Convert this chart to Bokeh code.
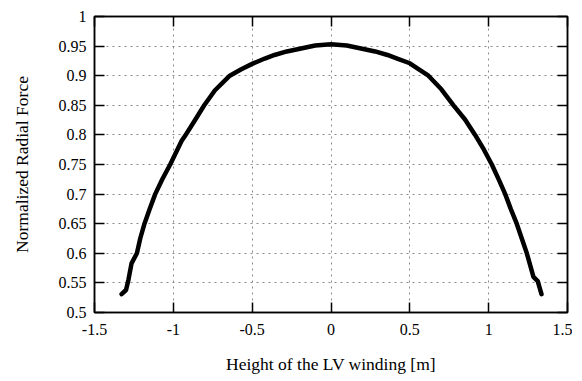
from bokeh.plotting import figure
from bokeh.models import LinearAxis, FixedTicker, Range1d, CustomJSTickFormatter
from bokeh.embed import file_html
from bokeh.resources import INLINE

# Data
height_m = [-1.328, -1.300, -1.285, -1.265, -1.231, -1.210, -1.183, -1.150, -1.115,
            -1.070, -1.020, -0.947, -0.922, -0.860, -0.804, -0.737, -0.642, -0.569,
            -0.500, -0.420, -0.358, -0.280, -0.190, -0.100, 0.000, 0.100, 0.190,
            0.280, 0.358, 0.420, 0.500, 0.555, 0.618, 0.700, 0.777, 0.850, 0.914,
            0.970, 1.020, 1.065, 1.105, 1.140, 1.178, 1.210, 1.242, 1.284, 1.311, 1.335]
radial_force = [0.531, 0.538, 0.555, 0.583, 0.600, 0.625, 0.650, 0.675, 0.700,
                0.725, 0.750, 0.790, 0.800, 0.826, 0.850, 0.875, 0.900, 0.911,
                0.920, 0.929, 0.935, 0.941, 0.946, 0.951, 0.953, 0.951, 0.946,
                0.941, 0.935, 0.929, 0.921, 0.911, 0.900, 0.877, 0.850, 0.826, 0.800,
                0.775, 0.750, 0.724, 0.700, 0.675, 0.650, 0.625, 0.600, 0.560, 0.553, 0.531]

x_ticks = [-1.5, -1, -0.5, 0, 0.5, 1, 1.5]
y_ticks = [0.5, 0.55, 0.6, 0.65, 0.7, 0.75, 0.8, 0.85, 0.9, 0.95, 1]

FONT = "'Liberation Serif', 'Times New Roman', serif"

p = figure(width=572, height=379, output_backend="svg", toolbar_location=None,
           x_range=Range1d(-1.5, 1.5), y_range=Range1d(0.5, 1.0),
           min_border_left=94, min_border_right=5, min_border_top=16,
           min_border_bottom=67, x_axis_label="Height of the LV winding [m]",
           y_axis_label="Normalized Radial Force")

p.background_fill_color = "white"
p.border_fill_color = "white"
p.outline_line_color = "black"
p.outline_line_width = 1.5

for ax, ticks in ((p.xaxis[0], x_ticks), (p.yaxis[0], y_ticks)):
    ax.ticker = FixedTicker(ticks=ticks)
    ax.major_label_overrides = {t: f"{t:g}" for t in ticks}
    ax.major_tick_in = 10
    ax.major_tick_out = 0
    ax.minor_tick_in = 0
    ax.minor_tick_out = 0
    ax.major_tick_line_color = "black"
    ax.major_tick_line_width = 1.5
    ax.axis_line_color = "black"
    ax.axis_line_width = 1.5
    ax.major_label_text_font = FONT
    ax.major_label_text_font_size = "16px"
    ax.major_label_text_color = "black"
    ax.axis_label_text_font = FONT
    ax.axis_label_text_font_size = "17.5px"
    ax.axis_label_text_font_style = "normal"
    ax.axis_label_text_color = "black"
    ax.major_label_standoff = 8

p.xaxis[0].major_label_standoff = 11
p.xaxis[0].axis_label_standoff = 16
p.yaxis[0].axis_label_standoff = 24

# mirrored tick marks on top and right (no labels)
blank = CustomJSTickFormatter(code="return ''")
top = LinearAxis(ticker=FixedTicker(ticks=x_ticks), formatter=blank)
right = LinearAxis(ticker=FixedTicker(ticks=y_ticks), formatter=blank)
for ax in (top, right):
    ax.major_tick_in = 10
    ax.major_tick_out = 0
    ax.minor_tick_in = 0
    ax.minor_tick_out = 0
    ax.major_tick_line_color = "black"
    ax.major_tick_line_width = 1.5
    ax.axis_line_color = "black"
    ax.axis_line_width = 1.5
    ax.major_label_standoff = 0
p.add_layout(top, "above")
p.add_layout(right, "right")

p.xgrid.ticker = FixedTicker(ticks=x_ticks)
p.ygrid.ticker = FixedTicker(ticks=y_ticks)
for g in (p.xgrid[0], p.ygrid[0]):
    g.grid_line_color = "#8a8a8a"
    g.grid_line_dash = "2 4"
    g.grid_line_width = 1

p.line(height_m, radial_force, line_color="black", line_width=4.5,
       line_join="round", line_cap="round")

open("out.html", "w").write(file_html(p, INLINE))
